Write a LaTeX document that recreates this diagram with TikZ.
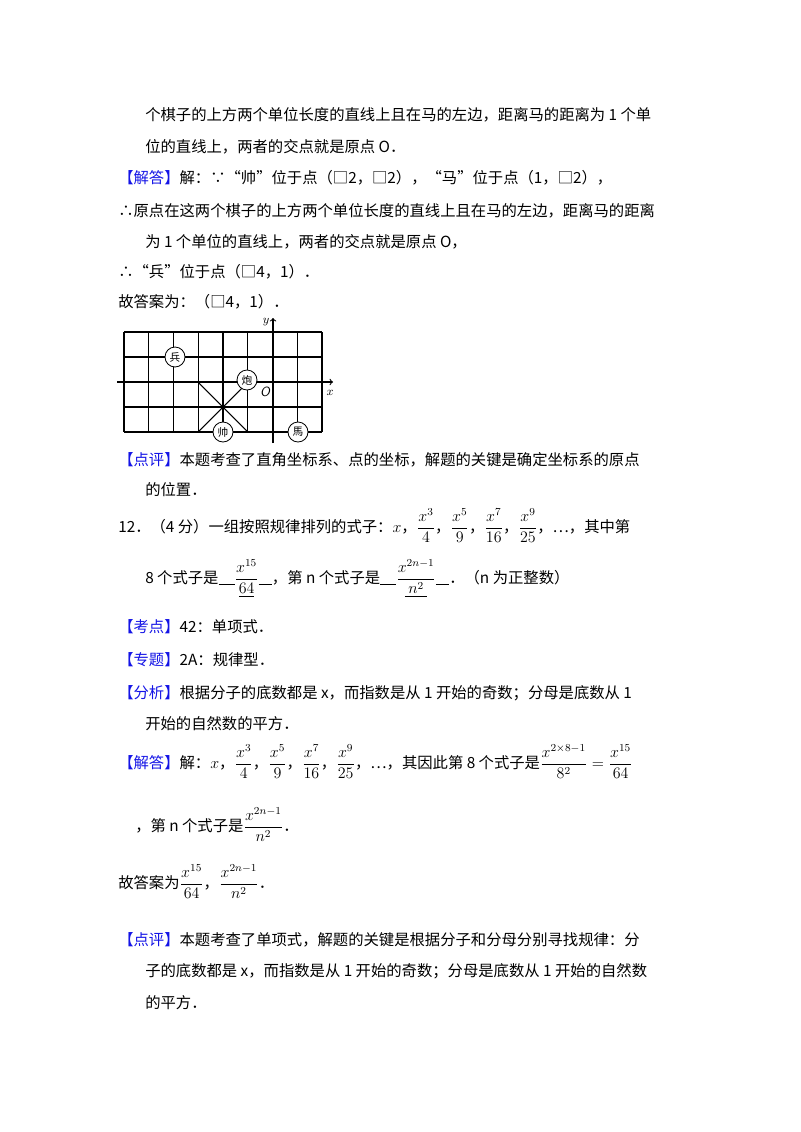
\documentclass[tikz,border=0pt]{standalone}
\usepackage{fontspec}
\usepackage{amsmath}
\setmainfont{Liberation Serif}
\newfontfamily\cjk{Noto Sans CJK SC}
\definecolor{lab}{RGB}{20,20,230}
\newcommand{\lb}[1]{\textcolor{lab}{【#1】}}
\newcommand{\fr}[2]{$\dfrac{x^{#1}}{#2}$}
\begin{document}
\begin{tikzpicture}[x=0.75pt,y=-0.75pt,
  tl/.style={anchor=base west,inner sep=0pt,font=\cjk\fontsize{11.5}{14}\selectfont},
  grid/.style={line width=0.8pt},
  piece/.style={circle,draw,line width=0.6pt,fill=white,inner sep=0pt,minimum size=15pt,font=\cjk\fontsize{8}{8}\selectfont}]
\useasboundingbox (0,0) rectangle (800,1132);
\node[tl] (l1) at (145,120) {个棋子的上方两个单位长度的直线上且在马的左边，距离马的距离为 1 个单};
\node[tl] (l2) at (145,152) {位的直线上，两者的交点就是原点 O．};
\node[tl] (l3) at (118,183) {\lb{解答}解：∵“帅”位于点（□2，□2），“马”位于点（1，□2），};
\node[tl] (l4) at (118,216) {∴原点在这两个棋子的上方两个单位长度的直线上且在马的左边，距离马的距离};
\node[tl] (l5) at (145,247) {为 1 个单位的直线上，两者的交点就是原点 O，};
\node[tl] (l6) at (118,277) {∴“兵”位于点（□4，1）．};
\node[tl] (l7) at (118,307) {故答案为：（□4，1）．};
% grid
\foreach \i in {0,...,8} \draw[grid] (124+24.75*\i,332) -- (124+24.75*\i,432);
\foreach \j in {0,...,4} \draw[grid] (124,332+25*\j) -- (322,332+25*\j);
\draw[grid] (198,382) -- (248,432);
\draw[grid] (248,382) -- (198,432);
\draw[grid,->] (117,382) -- (333,382);
\draw[grid,->] (273,443) -- (273,318);
\node[font=\itshape\small] (xl) at (330,393) {$x$};
\node[font=\small] (yl) at (266,322) {$y$};
\node[font=\sffamily\itshape] (o) at (265,392) {O};
\node[piece] (bing) at (175,357) {兵};
\node[piece] (pao) at (247,380) {炮};
\node[piece] (shuai) at (223,432) {帅};
\node[piece] (ma) at (298,432) {馬};
\node[tl] (l8) at (118,465) {\lb{点评}本题考查了直角坐标系、点的坐标，解题的关键是确定坐标系的原点};
\node[tl] (l9) at (145,495) {的位置．};
\node[tl] (l10) at (118,532) {12．（4 分）一组按照规律排列的式子：$x$，\fr{3}{4}，\fr{5}{9}，\fr{7}{16}，\fr{9}{25}，…，其中第};
\node[tl] (l11) at (145,583) {8 个式子是\rule[-1pt]{12pt}{0.5pt}$\dfrac{x^{15}}{\underline{64}}$\rule[-1pt]{10pt}{0.5pt}，第 n 个式子是\rule[-1pt]{12pt}{0.5pt}$\dfrac{x^{2n-1}}{\underline{\ n^2\ }}$\rule[-1pt]{10pt}{0.5pt}．（n 为正整数）};
\node[tl] (l12) at (118,632) {\lb{考点}42：单项式．};
\node[tl] (l13) at (118,665) {\lb{专题}2A：规律型．};
\node[tl] (l14) at (118,698) {\lb{分析}根据分子的底数都是 x，而指数是从 1 开始的奇数；分母是底数从 1};
\node[tl] (l15) at (145,729) {开始的自然数的平方．};
\node[tl] (l16) at (118,768) {\lb{解答}解：$x$，\fr{3}{4}，\fr{5}{9}，\fr{7}{16}，\fr{9}{25}，…，其因此第 8 个式子是$\dfrac{x^{2\times8-1}}{8^2}=\dfrac{x^{15}}{64}$};
\node[tl] (l17) at (135,831) {，第 n 个式子是$\dfrac{x^{2n-1}}{n^2}$．};
\node[tl] (l18) at (118,888) {故答案为$\dfrac{x^{15}}{64}$，$\dfrac{x^{2n-1}}{n^2}$．};
\node[tl] (l19) at (118,945) {\lb{点评}本题考查了单项式，解题的关键是根据分子和分母分别寻找规律：分};
\node[tl] (l20) at (145,976) {子的底数都是 x，而指数是从 1 开始的奇数；分母是底数从 1 开始的自然数};
\node[tl] (l21) at (145,1008) {的平方．};
\end{tikzpicture}
\end{document}
